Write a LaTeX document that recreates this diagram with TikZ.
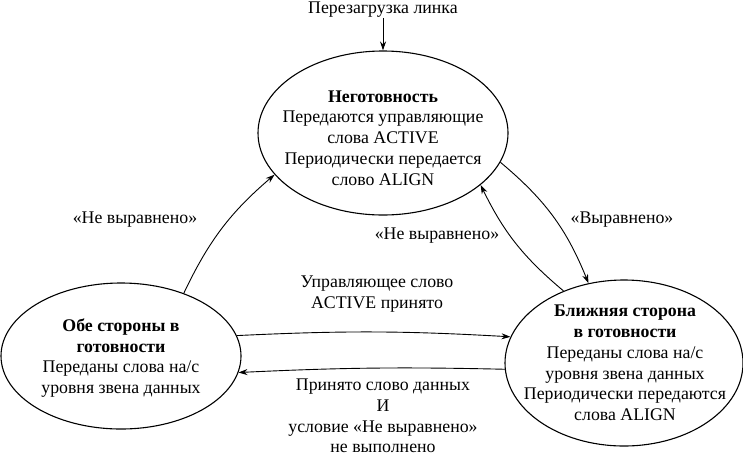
\documentclass[tikz,border=0pt]{standalone}
\usepackage{fontspec}
\setmainfont{Liberation Serif}
\usetikzlibrary{shapes.geometric,arrows.meta}
\begin{document}
\begin{tikzpicture}[x=1pt,y=-1pt,
  state/.style={draw,ellipse,line width=1.1pt,inner sep=0pt},
  lbl/.style={align=center,inner sep=0pt,font=\fontsize{17.8}{20.8}\selectfont},
  conn/.style={line width=0.9pt,-{Stealth[length=9pt,width=6pt]}}]
\useasboundingbox (0,0) rectangle (743,456);
\node[state,minimum width=250pt,minimum height=164pt] (T) at (383,133) {};
\node[lbl] (Tt) at (383,138) {\textbf{Неготовность}\\Передаются управляющие\\слова ACTIVE\\Периодически передается\\слово ALIGN};
\node[state,minimum width=240pt,minimum height=146pt] (L) at (121,356) {};
\node[lbl] (Lt) at (121,358) {\textbf{Обе стороны в}\\\textbf{готовности}\\Переданы слова на/с\\уровня звена данных};
\node[state,minimum width=238pt,minimum height=166pt] (R) at (624,363) {};
\node[lbl] (Rt) at (625,363) {\textbf{Ближняя сторона}\\\textbf{в готовности}\\Переданы слова на/с\\уровня звена данных\\Периодически передаются\\слова ALIGN};
\node[lbl] (reset) at (383,10) {Перезагрузка линка};
\draw[conn] (reset.south) -- (T.north);
\draw[conn] (L.45) to[bend left=12] (T.201);
\draw[conn] (T.346) to[bend left=14] (R.114);
\draw[conn] (R.130) to[bend left=12] (T.332);
\draw[conn] (L.10) to[bend left=3] (R.167);
\draw[conn] (R.183) to[bend right=2] (L.352);
\node[lbl] (l1) at (135,220) {«Не выравнено»};
\node[lbl] (l2) at (437,236) {«Не выравнено»};
\node[lbl] (l3) at (622,220) {«Выравнено»};
\node[lbl] (l4) at (377,294) {Управляющее слово\\ACTIVE принято};
\node[lbl] (l5) at (383,416) {Принято слово данных\\И\\условие «Не выравнено»\\не выполнено};
\end{tikzpicture}
\end{document}
